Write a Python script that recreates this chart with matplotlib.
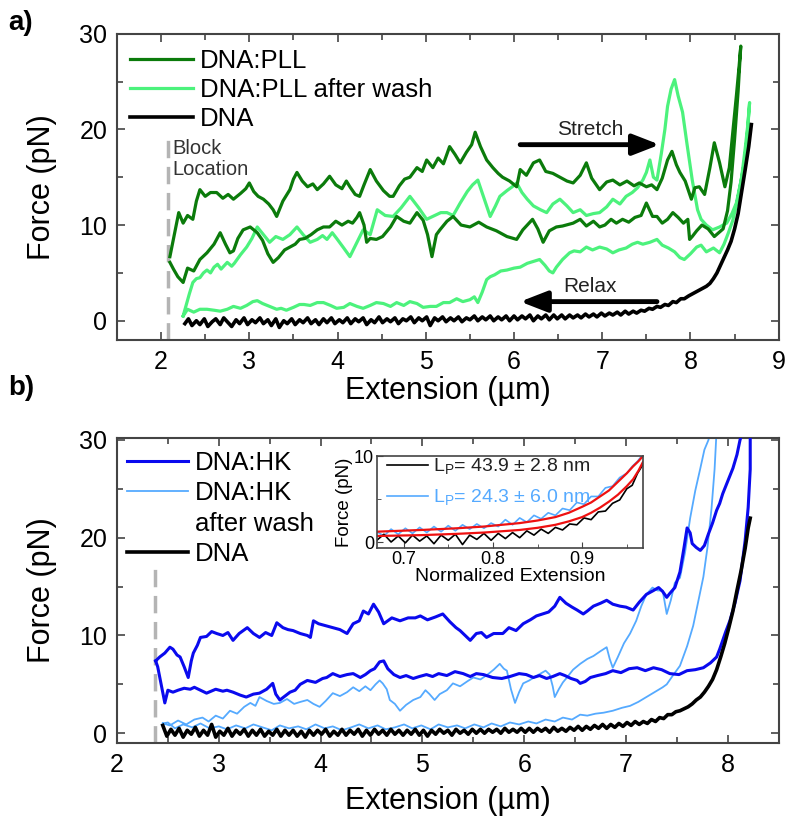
import numpy as np
import matplotlib
matplotlib.use("Agg")
import matplotlib.pyplot as plt
from matplotlib.lines import Line2D
from matplotlib.ticker import MultipleLocator

plt.rcParams['font.family'] = ['Liberation Sans', 'DejaVu Sans']

# ---------------- panel a data (extension um, force pN) ----------------
pll_stretch = [(2.10,6.7),(2.15,9.0),(2.20,11.3),(2.25,10.2),(2.30,11.0),(2.36,10.6),(2.40,12.5),(2.44,13.7),(2.50,13.0),(2.56,13.4),(2.63,13.4),(2.70,12.8),(2.76,13.2),(2.82,12.7),(2.90,13.3),(2.96,13.8),(3.00,14.4),(3.05,13.5),(3.10,13.0),(3.16,12.7),(3.22,12.2),(3.27,11.6),(3.31,10.9),(3.38,12.5),(3.46,13.7),(3.50,14.8),(3.54,15.5),(3.60,14.6),(3.66,14.0),(3.72,14.3),(3.77,13.7),(3.84,14.3),(3.91,15.1),(3.98,14.2),(4.05,13.8),(4.10,14.6),(4.14,14.0),(4.20,13.2),(4.25,13.0),(4.30,14.2),(4.37,15.8),(4.44,14.6),(4.52,13.6),(4.59,13.0),(4.63,13.0),(4.70,14.1),(4.76,14.8),(4.82,15.0),(4.90,16.0),(4.96,15.6),(5.01,16.8),(5.08,16.0),(5.14,17.0),(5.20,16.4),(5.27,18.2),(5.33,17.4),(5.39,16.5),(5.46,17.6),(5.52,18.4),(5.56,19.7),(5.62,18.2),(5.69,16.8),(5.76,16.0),(5.82,15.4),(5.87,15.0),(5.95,14.6),(6.03,14.0),(6.07,15.8),(6.14,15.2),(6.22,16.5),(6.29,16.8),(6.36,15.6),(6.44,15.4),(6.52,15.0),(6.60,14.6),(6.67,14.4),(6.75,15.2),(6.82,16.5),(6.88,14.9),(6.97,13.7),(7.05,14.5),(7.12,14.7),(7.20,14.2),(7.28,14.6),(7.36,14.1),(7.42,14.4),(7.50,14.0),(7.56,14.2),(7.62,13.7),(7.68,14.9),(7.74,16.8),(7.79,17.7),(7.84,16.3),(7.88,15.5),(7.94,14.6),(8.01,12.7),(8.05,13.9),(8.10,14.0),(8.16,13.2),(8.22,16.0),(8.27,18.6),(8.33,16.5),(8.39,14.0),(8.44,16.0),(8.48,19.7),(8.52,23.5),(8.55,26.5),(8.57,28.7)]
pll_relax = [(2.10,6.1),(2.14,5.4),(2.19,4.6),(2.25,4.0),(2.30,5.5),(2.37,5.2),(2.44,6.4),(2.52,7.1),(2.60,8.0),(2.67,9.2),(2.73,8.0),(2.78,7.1),(2.82,7.3),(2.87,8.6),(2.93,9.5),(3.01,9.8),(3.09,9.2),(3.15,8.4),(3.21,7.0),(3.27,6.1),(3.33,6.6),(3.40,7.4),(3.46,7.7),(3.52,8.0),(3.57,8.5),(3.63,8.6),(3.70,9.0),(3.77,9.5),(3.84,9.8),(3.91,9.8),(3.98,10.4),(4.05,10.0),(4.12,10.4),(4.17,10.2),(4.22,10.8),(4.25,11.3),(4.30,10.0),(4.33,8.2),(4.37,8.6),(4.44,8.5),(4.51,8.8),(4.60,9.8),(4.67,10.9),(4.75,10.4),(4.82,10.2),(4.90,11.3),(4.97,10.5),(5.02,9.0),(5.07,6.7),(5.12,9.0),(5.16,9.5),(5.24,10.4),(5.31,10.9),(5.40,10.0),(5.50,9.8),(5.60,10.3),(5.69,9.8),(5.80,9.4),(5.92,8.8),(6.03,8.5),(6.10,9.5),(6.21,10.6),(6.27,9.6),(6.33,8.2),(6.40,9.4),(6.48,9.8),(6.55,9.9),(6.67,10.2),(6.75,10.6),(6.82,9.9),(6.90,10.4),(6.97,9.8),(7.03,10.0),(7.10,10.6),(7.16,10.2),(7.23,10.6),(7.30,10.3),(7.37,10.8),(7.44,11.0),(7.50,12.3),(7.57,10.9),(7.62,10.9),(7.68,10.2),(7.74,10.6),(7.80,11.3),(7.86,10.8),(7.92,10.2),(7.97,10.6),(7.99,8.5),(8.02,8.8),(8.07,9.4),(8.13,10.0),(8.20,9.6),(8.27,8.8),(8.32,9.2),(8.37,9.6),(8.42,11.5),(8.46,14.5),(8.50,19.0),(8.54,24.0)]

wash_stretch = [(2.25,0.5),(2.28,1.5),(2.32,2.8),(2.36,4.0),(2.40,4.4),(2.44,4.5),(2.48,5.0),(2.52,5.3),(2.56,5.0),(2.60,5.6),(2.64,5.9),(2.68,5.4),(2.75,6.1),(2.80,5.7),(2.83,6.0),(2.90,6.9),(2.97,7.7),(3.03,8.6),(3.09,9.8),(3.16,9.0),(3.23,8.2),(3.30,8.8),(3.38,8.5),(3.46,9.0),(3.54,9.8),(3.61,9.0),(3.69,8.2),(3.77,8.5),(3.83,8.9),(3.88,8.5),(3.94,9.2),(3.99,8.6),(4.07,7.6),(4.14,6.7),(4.22,8.2),(4.29,9.5),(4.37,9.0),(4.45,11.6),(4.54,11.0),(4.63,10.9),(4.72,11.8),(4.82,13.0),(4.92,11.8),(5.01,10.6),(5.10,11.0),(5.17,11.3),(5.24,11.3),(5.31,11.0),(5.39,12.3),(5.47,13.5),(5.53,14.2),(5.59,14.7),(5.66,12.8),(5.73,10.9),(5.79,12.0),(5.84,13.0),(5.92,13.6),(5.98,14.0),(6.03,14.4),(6.09,13.4),(6.15,12.7),(6.22,12.0),(6.30,11.6),(6.37,11.3),(6.44,12.2),(6.52,12.7),(6.60,12.0),(6.67,11.3),(6.75,11.6),(6.82,11.0),(6.90,11.2),(6.97,11.3),(7.05,11.9),(7.12,12.7),(7.20,12.2),(7.27,13.0),(7.34,13.4),(7.40,13.9),(7.46,14.7),(7.50,15.5),(7.54,16.8),(7.58,15.0),(7.62,14.7),(7.67,17.5),(7.71,20.0),(7.74,22.4),(7.78,24.2),(7.82,25.2),(7.86,23.5),(7.91,21.8),(7.96,18.5),(8.02,14.7),(8.08,11.6),(8.12,10.6),(8.18,10.0),(8.25,9.5),(8.33,9.8),(8.41,10.2),(8.47,11.2),(8.52,12.3),(8.57,14.5),(8.61,16.5),(8.64,19.0),(8.67,22.8)]
wash_relax = [(2.25,0.5),(2.30,1.2),(2.37,0.9),(2.44,1.2),(2.52,1.2),(2.60,1.1),(2.67,1.0),(2.75,1.2),(2.82,1.5),(2.90,1.3),(2.97,1.6),(3.04,2.0),(3.09,2.1),(3.15,1.8),(3.23,1.5),(3.31,1.2),(3.36,1.3),(3.42,1.1),(3.50,1.4),(3.57,1.7),(3.62,1.7),(3.69,1.6),(3.77,1.9),(3.84,1.9),(3.92,1.6),(3.99,1.3),(4.07,1.4),(4.14,1.8),(4.22,1.5),(4.29,1.3),(4.37,1.6),(4.44,1.9),(4.52,1.8),(4.60,1.5),(4.67,1.9),(4.75,1.6),(4.82,2.0),(4.90,1.8),(4.97,1.4),(5.05,1.5),(5.12,1.5),(5.20,1.9),(5.27,1.9),(5.35,2.3),(5.42,2.0),(5.50,2.2),(5.55,2.5),(5.59,1.9),(5.64,3.0),(5.69,4.3),(5.73,4.6),(5.78,4.8),(5.85,5.2),(5.92,5.3),(6.00,5.5),(6.07,5.6),(6.15,6.0),(6.22,6.2),(6.29,6.4),(6.35,5.8),(6.40,5.2),(6.44,5.0),(6.48,5.6),(6.55,6.4),(6.63,7.1),(6.68,7.3),(6.75,7.2),(6.82,7.7),(6.89,7.4),(6.97,7.7),(7.05,7.5),(7.12,7.1),(7.19,7.4),(7.27,7.6),(7.34,8.0),(7.40,8.2),(7.46,8.0),(7.54,8.2),(7.62,8.5),(7.68,7.9),(7.75,7.6),(7.82,7.2),(7.88,6.6),(7.93,6.4),(8.00,7.0),(8.07,7.7),(8.12,7.9),(8.18,7.2),(8.26,7.6),(8.33,7.1),(8.38,8.0),(8.43,9.2),(8.48,10.5),(8.53,12.5),(8.58,15.0),(8.62,18.0),(8.65,20.5)]

dna_a = [(2.27,-0.3),(2.31,0.2),(2.35,-0.5),(2.40,0.0),(2.44,-0.4),(2.49,0.2),(2.53,-0.6),(2.58,-0.1),(2.62,0.2),(2.67,-0.4),(2.71,0.3),(2.76,-0.2),(2.80,-0.6),(2.85,0.1),(2.89,-0.3),(2.94,0.3),(2.98,-0.4),(3.03,0.1),(3.07,-0.2),(3.12,0.3),(3.16,-0.3),(3.21,0.1),(3.25,-0.5),(3.30,0.2),(3.34,-0.7),(3.39,0.0),(3.43,-0.3),(3.48,0.2),(3.52,-0.4),(3.57,0.1),(3.61,-0.2),(3.66,0.3),(3.70,-0.3),(3.75,0.1),(3.79,-0.4),(3.84,0.2),(3.88,-0.2),(3.93,0.3),(3.97,-0.3),(4.02,0.1),(4.06,-0.2),(4.11,0.3),(4.15,-0.3),(4.20,0.2),(4.24,-0.1),(4.29,0.3),(4.33,-0.4),(4.38,0.1),(4.42,-0.2),(4.47,0.4),(4.51,-0.2),(4.56,0.2),(4.60,-0.1),(4.65,0.3),(4.69,-0.3),(4.74,0.2),(4.78,0.0),(4.83,0.4),(4.87,-0.2),(4.92,0.3),(4.96,0.0),(5.01,0.4),(5.05,-0.5),(5.10,0.3),(5.14,0.0),(5.19,0.4),(5.23,-0.1),(5.28,0.3),(5.32,0.0),(5.37,0.4),(5.41,-0.1),(5.46,0.3),(5.50,0.1),(5.55,0.5),(5.59,0.0),(5.64,0.4),(5.68,0.1),(5.73,0.5),(5.77,0.0),(5.82,0.4),(5.86,0.1),(5.91,0.5),(5.95,0.0),(6.00,0.5),(6.04,0.1),(6.09,0.5),(6.13,0.2),(6.18,0.6),(6.22,0.0),(6.27,0.5),(6.31,0.2),(6.36,0.6),(6.40,0.1),(6.45,0.6),(6.49,0.2),(6.54,0.6),(6.58,0.2),(6.63,0.6),(6.67,0.3),(6.72,0.6),(6.76,0.3),(6.81,0.7),(6.85,0.4),(6.90,0.7),(6.94,0.4),(6.99,0.8),(7.03,0.5),(7.08,0.8),(7.12,0.6),(7.17,0.9),(7.21,0.6),(7.26,1.0),(7.30,0.7),(7.35,1.0),(7.39,0.8),(7.44,1.1),(7.48,1.0),(7.53,1.3),(7.57,1.2),(7.62,1.5),(7.66,1.4),(7.71,1.7),(7.75,1.6),(7.80,2.0),(7.84,1.9),(7.89,2.3),(7.93,2.3),(7.98,2.6),(8.02,2.8),(8.06,3.0),(8.10,3.2),(8.14,3.4),(8.18,3.6),(8.22,3.9),(8.26,4.4),(8.30,5.0),(8.34,5.8),(8.38,6.6),(8.42,7.4),(8.46,8.3),(8.50,9.6),(8.54,11.2),(8.58,13.5),(8.62,15.8),(8.66,18.2),(8.69,20.5)]

# ---------------- panel b data ----------------
hk_stretch = [(2.38,7.4),(2.42,7.8),(2.47,8.2),(2.52,8.8),(2.55,8.6),(2.59,8.0),(2.62,7.8),(2.66,6.8),(2.70,5.7),(2.73,7.4),(2.75,8.2),(2.79,9.0),(2.82,9.8),(2.88,9.9),(2.93,10.4),(2.98,10.2),(3.04,10.0),(3.09,10.3),(3.14,9.5),(3.20,10.2),(3.28,10.8),(3.34,10.2),(3.40,9.8),(3.46,10.3),(3.52,10.0),(3.57,11.3),(3.63,10.8),(3.68,10.6),(3.73,10.5),(3.80,10.2),(3.87,10.0),(3.90,9.8),(3.93,11.5),(3.98,11.2),(4.05,11.0),(4.12,10.8),(4.19,10.6),(4.26,10.2),(4.32,11.2),(4.38,11.5),(4.42,12.5),(4.47,12.2),(4.52,13.2),(4.57,12.4),(4.62,11.2),(4.70,11.8),(4.78,11.5),(4.86,11.8),(4.93,11.8),(4.98,12.0),(5.05,11.6),(5.13,11.9),(5.20,12.2),(5.27,11.4),(5.33,10.8),(5.37,10.5),(5.42,10.0),(5.47,9.5),(5.53,10.2),(5.58,10.3),(5.63,9.8),(5.70,10.2),(5.79,10.2),(5.85,10.8),(5.92,10.5),(5.99,11.2),(6.06,11.6),(6.12,12.0),(6.18,12.2),(6.24,12.4),(6.30,13.0),(6.35,13.9),(6.41,13.3),(6.47,12.9),(6.52,12.6),(6.58,12.2),(6.62,12.5),(6.68,13.0),(6.75,13.3),(6.81,13.6),(6.87,13.2),(6.94,13.0),(7.00,12.9),(7.07,12.6),(7.13,13.4),(7.20,14.2),(7.27,14.6),(7.32,14.9),(7.36,14.5),(7.40,13.9),(7.43,14.3),(7.48,14.9),(7.53,16.5),(7.57,19.0),(7.60,21.0),(7.63,20.5),(7.65,19.4),(7.69,19.0),(7.73,18.7),(7.77,19.2),(7.81,20.4),(7.85,21.5),(7.89,22.8),(7.92,23.5),(7.95,24.5),(8.00,25.8),(8.05,27.1),(8.09,28.5),(8.12,30.0),(8.15,31.0)]
hk_relax = [(2.38,7.4),(2.40,6.8),(2.42,5.8),(2.44,4.7),(2.47,3.1),(2.50,4.4),(2.55,4.2),(2.60,4.4),(2.66,4.6),(2.72,4.5),(2.76,4.7),(2.82,4.4),(2.88,4.1),(2.97,4.5),(3.04,4.3),(3.08,4.4),(3.14,4.2),(3.21,3.9),(3.27,3.7),(3.34,4.0),(3.40,4.1),(3.47,4.5),(3.53,5.1),(3.56,4.0),(3.60,3.4),(3.65,3.8),(3.70,4.2),(3.75,4.4),(3.80,5.0),(3.87,5.4),(3.95,5.2),(4.02,5.6),(4.06,5.7),(4.12,6.1),(4.19,5.8),(4.26,6.0),(4.32,6.1),(4.39,5.7),(4.44,6.0),(4.49,6.4),(4.53,6.6),(4.58,7.3),(4.62,7.4),(4.66,6.6),(4.72,6.0),(4.78,5.7),(4.84,5.9),(4.91,5.6),(4.97,5.8),(5.04,6.0),(5.10,5.8),(5.16,6.1),(5.24,5.9),(5.32,6.3),(5.40,6.1),(5.47,5.8),(5.53,6.1),(5.60,6.0),(5.69,5.7),(5.78,5.6),(5.86,5.8),(5.95,6.1),(6.02,6.0),(6.09,5.7),(6.15,5.9),(6.22,5.6),(6.28,5.8),(6.35,6.1),(6.40,5.9),(6.46,5.6),(6.52,5.4),(6.55,5.1),(6.60,5.3),(6.65,5.7),(6.72,5.9),(6.80,6.1),(6.87,6.4),(6.95,6.2),(7.03,6.6),(7.11,6.7),(7.19,6.4),(7.27,6.7),(7.35,6.5),(7.43,6.1),(7.52,6.0),(7.60,6.4),(7.68,6.5),(7.76,6.7),(7.83,7.2),(7.89,7.8),(7.92,8.6),(7.95,9.5),(7.98,10.4),(8.02,11.5),(8.07,13.3),(8.12,15.6),(8.17,19.7),(8.20,23.1),(8.22,27.0),(8.22,31.0)]

hkw_stretch = [(2.45,1.0),(2.52,0.8),(2.60,1.3),(2.68,0.9),(2.76,1.4),(2.84,1.6),(2.90,1.2),(2.97,1.8),(3.04,1.5),(3.11,2.3),(3.18,2.0),(3.25,2.7),(3.31,3.1),(3.36,2.8),(3.40,3.7),(3.47,3.3),(3.54,3.0),(3.60,3.1),(3.67,3.5),(3.74,3.0),(3.80,3.2),(3.87,3.4),(3.93,3.0),(3.99,2.7),(4.05,3.3),(4.12,4.1),(4.19,3.8),(4.26,4.2),(4.32,4.7),(4.38,4.3),(4.44,4.8),(4.49,4.4),(4.54,5.0),(4.58,5.4),(4.61,5.1),(4.65,4.5),(4.68,3.4),(4.73,3.0),(4.78,2.3),(4.84,2.9),(4.91,3.4),(4.98,3.7),(5.03,4.4),(5.07,4.0),(5.12,3.4),(5.17,4.0),(5.24,4.4),(5.30,5.1),(5.37,4.8),(5.44,5.3),(5.50,5.7),(5.57,5.5),(5.64,6.0),(5.70,6.5),(5.76,7.1),(5.80,6.6),(5.83,6.4),(5.87,4.5),(5.91,3.1),(5.95,4.2),(5.99,5.1),(6.05,5.4),(6.11,5.8),(6.16,6.1),(6.21,6.4),(6.25,6.0),(6.28,4.8),(6.30,3.7),(6.34,4.5),(6.38,5.2),(6.42,5.7),(6.48,6.5),(6.55,7.1),(6.62,7.6),(6.68,7.9),(6.75,8.4),(6.81,8.8),(6.84,7.6),(6.87,6.7),(6.92,7.8),(6.98,9.2),(7.04,10.2),(7.10,11.5),(7.15,13.0),(7.20,14.2),(7.26,14.9),(7.31,14.6),(7.36,14.6),(7.40,12.2),(7.44,13.6),(7.48,15.4),(7.53,15.9),(7.58,18.5),(7.63,22.0),(7.68,24.8),(7.73,27.1),(7.77,29.0),(7.81,30.0),(7.83,31.0)]
hkw_relax = [(2.45,1.0),(2.50,1.1),(2.57,0.5),(2.65,0.9),(2.74,0.6),(2.82,1.0),(2.91,0.5),(3.00,0.7),(3.08,0.4),(3.17,0.8),(3.26,0.5),(3.34,0.9),(3.43,0.6),(3.52,0.3),(3.60,0.8),(3.69,0.5),(3.78,0.7),(3.86,0.4),(3.95,0.9),(4.04,0.5),(4.12,0.7),(4.21,0.3),(4.30,0.6),(4.38,0.9),(4.47,0.5),(4.56,0.8),(4.64,0.4),(4.73,0.6),(4.82,0.9),(4.90,0.5),(4.99,0.8),(5.08,0.4),(5.16,0.9),(5.25,0.6),(5.34,0.8),(5.42,0.5),(5.51,0.9),(5.60,0.6),(5.68,1.0),(5.77,0.7),(5.86,1.1),(5.95,0.9),(6.04,1.2),(6.12,1.0),(6.21,1.4),(6.30,1.2),(6.38,1.6),(6.47,1.4),(6.55,1.9),(6.62,1.8),(6.70,2.0),(6.78,2.1),(6.87,2.3),(6.96,2.6),(7.04,2.8),(7.12,3.2),(7.20,3.7),(7.28,4.2),(7.36,4.7),(7.40,5.0),(7.46,5.9),(7.53,6.9),(7.60,8.9),(7.66,11.0),(7.71,13.5),(7.76,16.0),(7.80,19.0),(7.84,23.0),(7.87,27.0),(7.89,31.0)]

dna_b = [(2.45,0.8),(2.49,-0.3),(2.53,0.4),(2.57,-0.2),(2.61,0.5),(2.65,-0.4),(2.69,0.3),(2.73,-0.1),(2.77,0.6),(2.81,-0.3),(2.85,0.3),(2.89,-0.2),(2.93,0.9),(2.97,-0.4),(3.01,0.2),(3.05,-0.2),(3.09,0.5),(3.13,-0.3),(3.17,0.3),(3.21,-0.1),(3.25,0.4),(3.29,-0.3),(3.33,0.3),(3.37,-0.2),(3.41,0.4),(3.45,-0.3),(3.49,0.2),(3.53,-0.2),(3.57,0.4),(3.61,-0.3),(3.65,0.3),(3.69,-0.2),(3.73,0.3),(3.77,-0.3),(3.81,0.2),(3.85,-0.4),(3.89,0.3),(3.93,-0.2),(3.97,0.3),(4.01,-0.1),(4.05,0.4),(4.09,-0.3),(4.13,0.2),(4.17,-0.2),(4.21,0.4),(4.25,-0.2),(4.29,0.3),(4.33,-0.1),(4.37,0.4),(4.41,-0.3),(4.45,0.3),(4.49,-0.2),(4.53,0.4),(4.57,-0.1),(4.61,0.3),(4.65,-0.2),(4.69,0.4),(4.73,-0.1),(4.77,0.3),(4.81,-0.2),(4.85,0.3),(4.89,-0.1),(4.93,0.4),(4.97,-0.2),(5.01,0.3),(5.05,-0.3),(5.09,0.3),(5.13,-0.1),(5.17,0.4),(5.21,0.0),(5.25,0.3),(5.29,-0.2),(5.33,0.4),(5.37,0.0),(5.41,0.3),(5.45,-0.1),(5.49,0.4),(5.53,0.0),(5.57,0.4),(5.61,0.0),(5.65,0.4),(5.69,0.1),(5.73,0.4),(5.77,0.0),(5.81,0.5),(5.85,0.1),(5.89,0.4),(5.93,0.1),(5.97,0.5),(6.01,0.1),(6.05,0.5),(6.09,0.1),(6.13,0.5),(6.17,0.2),(6.21,0.5),(6.25,0.1),(6.29,0.6),(6.33,0.2),(6.37,0.5),(6.41,0.2),(6.45,0.6),(6.49,0.3),(6.53,0.7),(6.57,0.3),(6.61,0.7),(6.65,0.4),(6.69,0.8),(6.73,0.5),(6.77,0.9),(6.81,0.5),(6.85,0.9),(6.89,0.6),(6.93,1.0),(6.97,0.7),(7.01,1.1),(7.05,0.8),(7.09,1.2),(7.13,0.9),(7.17,1.2),(7.21,1.0),(7.25,1.4),(7.29,1.2),(7.33,1.6),(7.37,1.5),(7.41,1.9),(7.45,1.9),(7.49,2.2),(7.53,2.3),(7.57,2.5),(7.61,2.7),(7.65,3.0),(7.69,3.4),(7.73,3.7),(7.77,4.2),(7.81,4.8),(7.85,5.5),(7.89,6.5),(7.93,7.8),(7.97,9.2),(8.01,10.8),(8.05,12.5),(8.09,14.6),(8.13,16.6),(8.17,18.9),(8.20,21.0),(8.22,22.0)]

# ---------------- inset data (normalized extension, force) ----------------
inset_dna = [(0.670,0.2),(0.678,0.9),(0.686,0.0),(0.694,0.7),(0.702,-0.1),(0.710,0.8),(0.718,0.1),(0.726,0.7),(0.734,-0.2),(0.742,0.8),(0.750,0.2),(0.758,0.9),(0.766,-0.3),(0.774,0.8),(0.782,0.3),(0.790,1.0),(0.798,0.2),(0.806,1.0),(0.814,0.4),(0.822,1.1),(0.830,0.5),(0.838,1.3),(0.846,0.8),(0.854,1.5),(0.862,1.0),(0.870,1.7),(0.878,1.4),(0.886,2.1),(0.894,2.0),(0.902,2.8),(0.910,2.6),(0.918,3.5),(0.926,3.6),(0.934,4.5),(0.942,4.9),(0.950,6.2),(0.956,6.6),(0.962,8.0),(0.968,9.0)]
inset_hk = [(0.670,1.2),(0.678,0.7),(0.686,1.5),(0.694,0.9),(0.702,1.6),(0.710,1.0),(0.718,1.7),(0.726,1.1),(0.734,1.8),(0.742,1.2),(0.750,1.9),(0.758,1.3),(0.766,2.0),(0.774,1.5),(0.782,2.1),(0.790,1.6),(0.798,2.2),(0.806,1.8),(0.814,2.6),(0.822,2.0),(0.830,2.8),(0.838,2.3),(0.846,3.1),(0.854,2.7),(0.862,3.4),(0.870,3.1),(0.878,3.9),(0.886,3.7),(0.894,4.6),(0.902,4.4),(0.910,5.3),(0.918,5.3),(0.926,6.3),(0.934,6.5),(0.942,7.5),(0.950,8.0),(0.956,8.8),(0.962,9.4),(0.968,10.2)]
fit_x = [0.67, 0.72, 0.76, 0.79, 0.83, 0.85, 0.87, 0.885, 0.90, 0.91, 0.92, 0.93, 0.94, 0.95, 0.957, 0.963, 0.968]
fit_hk = [1.2, 1.4, 1.6, 1.8, 2.2, 2.5, 2.9, 3.4, 4.1, 4.6, 5.3, 6.0, 7.0, 8.0, 8.8, 9.4, 10.0]
fit_dna = [0.7, 0.8, 0.95, 1.1, 1.4, 1.65, 2.0, 2.4, 2.9, 3.4, 4.0, 4.7, 5.5, 6.5, 7.3, 8.3, 9.3]

lp_labels = ["L$_\\mathregular{P}$= 43.9 ± 2.8 nm", "L$_\\mathregular{P}$= 24.3 ± 6.0 nm"]

dark_green = "#0b7b0b"
light_green = "#4cf27c"
dark_blue = "#0a0aee"
light_blue = "#55aaff"
frame = "#444444"


def xy(pairs):
    a = np.array(pairs)
    return a[:, 0], a[:, 1]


def loop(up, down):
    x1, y1 = xy(up)
    x2, y2 = xy(down)
    return np.concatenate([x1, x2[::-1]]), np.concatenate([y1, y2[::-1]])


def style(ax, xmaj, ymaj, size=18):
    ax.tick_params(which='both', direction='in', top=True, right=True,
                   labelsize=size, color=frame, width=1.2, pad=7)
    ax.tick_params(which='major', length=6)
    ax.tick_params(which='minor', length=4)
    ax.xaxis.set_major_locator(MultipleLocator(xmaj))
    ax.xaxis.set_minor_locator(MultipleLocator(xmaj / 2))
    ax.yaxis.set_major_locator(MultipleLocator(ymaj))
    ax.yaxis.set_minor_locator(MultipleLocator(ymaj / 2))
    for s in ax.spines.values():
        s.set_color(frame)
        s.set_linewidth(1.5)


fig = plt.figure(figsize=(7.85, 8.21), dpi=100)

# ---------------- panel a ----------------
ax1 = fig.add_axes([0.149, 0.586, 0.843, 0.373])
x, y = loop(pll_stretch, pll_relax)
ax1.plot(x, y, color=dark_green, lw=2.3, label="DNA:PLL", zorder=3)
x, y = loop(wash_stretch, wash_relax)
ax1.plot(x, y, color=light_green, lw=2.3, label="DNA:PLL after wash", zorder=2)
x, y = xy(dna_a)
ax1.plot(x, y, color="black", lw=2.6, label="DNA", zorder=4)
ax1.plot([2.08, 2.08], [-2, 19.7], color="#b4b4b4", lw=2.5, dashes=(5, 2.5))
ax1.text(2.13, 19.0, "Block\nLocation", fontsize=14.5, color="#333333", va="top",
         linespacing=1.15)
ax1.annotate("", xy=(7.65, 18.4), xytext=(6.07, 18.4),
             arrowprops=dict(arrowstyle="-|>,head_length=0.9,head_width=0.35",
                             lw=3.5, color="black", shrinkA=0, shrinkB=0,
                             mutation_scale=18))
ax1.text(6.86, 20.0, "Stretch", fontsize=15, ha="center", va="center", color="#222222")
ax1.annotate("", xy=(6.07, 2.0), xytext=(7.62, 2.0),
             arrowprops=dict(arrowstyle="-|>,head_length=0.9,head_width=0.35",
                             lw=3.5, color="black", shrinkA=0, shrinkB=0,
                             mutation_scale=18))
ax1.text(6.86, 3.6, "Relax", fontsize=15, ha="center", va="center", color="#222222")
ax1.set_xlim(1.5, 9)
ax1.set_ylim(-2, 30)
style(ax1, 1, 10)
ax1.set_xlabel("Extension (µm)", fontsize=22)
ax1.set_ylabel("Force (pN)", fontsize=22)
ax1.xaxis.set_label_coords(0.5, -0.118)
ax1.yaxis.set_label_coords(-0.09, 0.5)
ax1.legend(loc="upper left", bbox_to_anchor=(0.02, 0.95), frameon=False,
           fontsize=18.5, handlelength=2.45, handletextpad=0.27, labelspacing=0.19,
           borderaxespad=0, borderpad=0)

# ---------------- panel b ----------------
ax2 = fig.add_axes([0.149, 0.095, 0.843, 0.3715])
x, y = loop(hkw_stretch, hkw_relax)
h_w, = ax2.plot(x, y, color=light_blue, lw=1.3, zorder=2)
x, y = loop(hk_stretch, hk_relax)
h_hk, = ax2.plot(x, y, color=dark_blue, lw=2.2, zorder=3)
x, y = xy(dna_b)
h_dna, = ax2.plot(x, y, color="black", lw=2.6, zorder=4)
ax2.plot([2.37, 2.37], [-1, 17.3], color="#b4b4b4", lw=2.5, dashes=(5, 2.5))
ax2.set_xlim(2, 8.5)
ax2.set_ylim(-1, 30.2)
style(ax2, 1, 10)
ax2.set_xlabel("Extension (µm)", fontsize=22)
ax2.set_ylabel("Force (pN)", fontsize=22)
ax2.xaxis.set_label_coords(0.5, -0.14)
ax2.yaxis.set_label_coords(-0.09, 0.5)
blank = Line2D([], [], color="none")
ax2.legend([h_hk, h_w, blank, h_dna], ["DNA:HK", "DNA:HK", "after wash", "DNA"],
           loc="upper left", bbox_to_anchor=(0.015, 0.958), frameon=False,
           fontsize=18.5, handlelength=2.37, handletextpad=0.27, labelspacing=0.25,
           borderaxespad=0, borderpad=0)

# ---------------- inset ----------------
ins = fig.add_axes([0.480, 0.3325, 0.339, 0.112])
x, y = xy(inset_hk)
ins.plot(x, y, color=light_blue, lw=1.2, label=lp_labels[1])
x, y = xy(inset_dna)
ins.plot(x, y, color="black", lw=1.2, label=lp_labels[0])
ins.plot(fit_x, fit_hk, color="#ee1111", lw=1.6)
ins.plot(fit_x, fit_dna, color="#ee1111", lw=1.6)
ins.set_xlim(0.67, 0.968)
ins.set_ylim(-0.7, 10)
ins.xaxis.set_major_locator(MultipleLocator(0.1))
ins.xaxis.set_minor_locator(MultipleLocator(0.05))
ins.yaxis.set_major_locator(MultipleLocator(10))
ins.yaxis.set_minor_locator(MultipleLocator(5))
ins.tick_params(which='both', direction='in', labelsize=13, color=frame, pad=2)
ins.tick_params(which='major', length=4)
ins.tick_params(which='minor', length=3)
for s in ins.spines.values():
    s.set_color(frame)
    s.set_linewidth(1.2)
ins.set_xlabel("Normalized Extension", fontsize=14, labelpad=0)
ins.set_ylabel("Force (pN)", fontsize=13.5, labelpad=1)
hs, ls = ins.get_legend_handles_labels()
ins.legend(hs[::-1], ls[::-1], loc="upper left", bbox_to_anchor=(0.038, 0.99),
           frameon=False, fontsize=14, handlelength=2.1, handletextpad=0.26,
           labelspacing=0.55, borderaxespad=0, borderpad=0,
           labelcolor=["#222222", light_blue])

fig.text(0.010, 0.972, "a)", fontsize=20, fontweight="bold", va="center")
fig.text(0.010, 0.527, "b)", fontsize=20, fontweight="bold", va="center")

fig.savefig("out.png", dpi=100)
